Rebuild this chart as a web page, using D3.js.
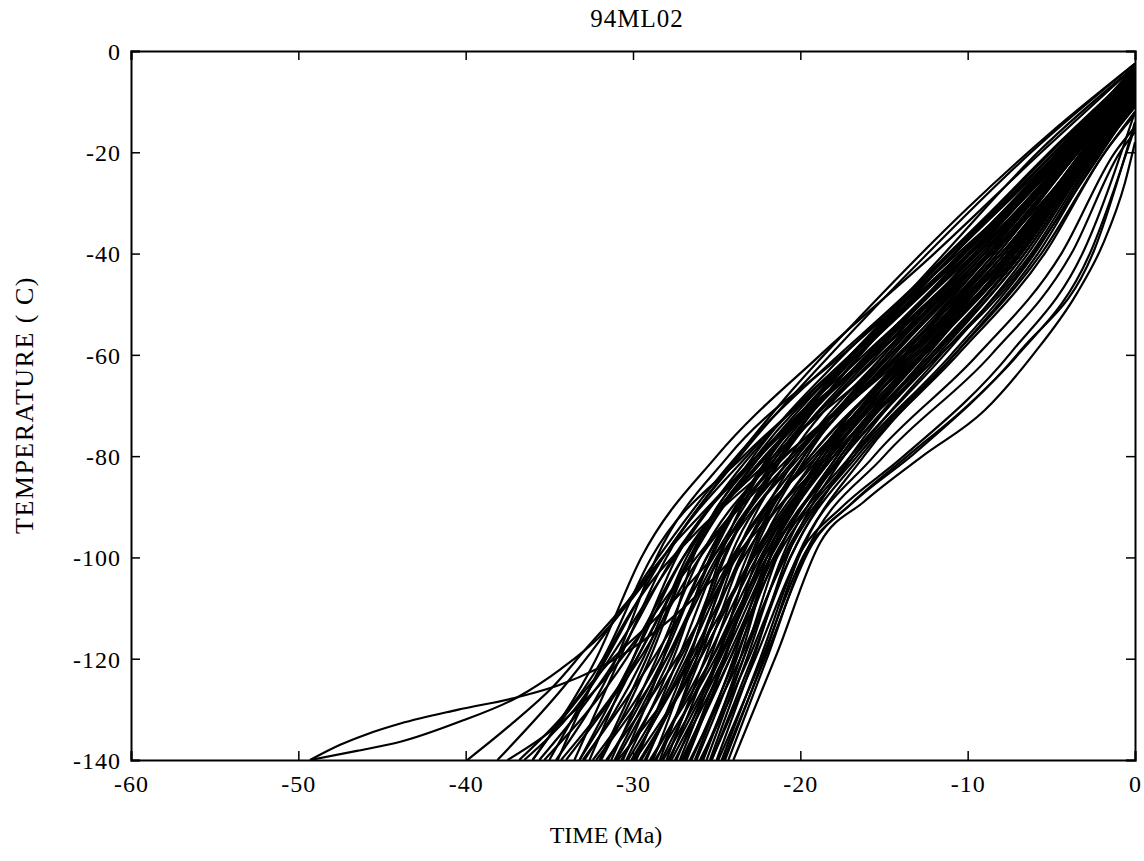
<!DOCTYPE html>
<html>
<head>
<meta charset="utf-8">
<script src="https://cdn.jsdelivr.net/npm/d3@7"></script>
<style>
  body { margin: 0; background: #fff; }
  svg { display: block; }
  text { font-family: "Liberation Serif", "Times New Roman", serif; fill: #000; }
</style>
</head>
<body>
<div id="chart"></div>
<script>
// axis ticks
const xTicks = [-60, -50, -40, -30, -20, -10, 0];
const yTicks = [0, -20, -40, -60, -80, -100, -120, -140];

// temperature levels used by the band paths (time read at each level)
const tempLevels = [-140, -120, -100, -80, -60, -40, -20];

// each row: time (Ma) at -140, -120, -100, -80, -60, -40, -20, then temperature at t = 0
const bandTimes = [
  [-36.8, -31.8, -28.9, -23.4, -16.6, -10.2, -4.4, -5],
  [-36.0, -32.2, -29.5, -25.0, -18.8, -12.0, -5.6, -3],
  [-35.3, -30.4, -27.0, -22.0, -16.9, -11.4, -5.8, -3],
  [-34.6, -31.0, -28.6, -24.3, -17.5, -10.6, -4.0, -6],
  [-34.0, -29.6, -26.0, -20.6, -14.2, -8.6, -3.4, -7.5],
  [-33.5, -30.8, -28.0, -23.6, -18.2, -12.4, -6.2, -2.5],
  [-33.0, -28.8, -25.2, -21.4, -16.0, -9.9, -4.0, -5],
  [-32.6, -30.0, -27.4, -22.4, -15.6, -9.2, -3.6, -6.5],
  [-32.2, -28.0, -24.8, -20.2, -14.8, -9.6, -4.6, -4],
  [-31.9, -29.0, -26.6, -22.8, -17.4, -11.0, -4.8, -4.5],
  [-31.6, -27.4, -23.8, -19.4, -13.6, -8.0, -3.0, -8.5],
  [-31.3, -28.6, -26.0, -21.4, -15.2, -9.0, -3.5, -7],
  [-31.0, -27.8, -25.3, -21.9, -16.8, -10.8, -4.8, -4],
  [-30.7, -27.2, -24.1, -19.2, -13.0, -7.2, -2.6, -10],
  [-30.4, -27.6, -25.4, -21.6, -16.0, -10.0, -4.2, -5],
  [-30.1, -26.6, -23.4, -18.8, -13.8, -8.7, -3.8, -6],
  [-29.8, -27.3, -24.9, -20.4, -14.1, -8.0, -3.1, -8],
  [-29.5, -26.2, -23.6, -20.2, -15.0, -9.2, -3.8, -6],
  [-29.2, -26.7, -24.5, -21.0, -15.8, -9.9, -4.3, -5],
  [-28.9, -25.6, -22.6, -18.0, -12.2, -6.8, -2.6, -9.5],
  [-28.6, -26.0, -23.9, -20.6, -15.4, -9.4, -3.8, -5.5],
  [-28.3, -25.3, -22.4, -18.6, -13.6, -8.4, -3.5, -6.5],
  [-28.0, -25.7, -23.5, -19.4, -13.4, -7.6, -2.9, -8.5],
  [-27.7, -24.6, -21.8, -17.6, -12.4, -7.4, -3.0, -7.5],
  [-27.4, -25.0, -22.9, -19.6, -14.6, -8.8, -3.6, -6],
  [-27.1, -24.2, -21.4, -16.8, -11.0, -6.0, -2.2, -11],
  [-26.8, -24.5, -22.6, -19.0, -13.6, -7.8, -3.0, -8],
  [-26.5, -23.9, -21.5, -17.8, -12.8, -7.2, -2.6, -9],
  [-26.2, -23.8, -21.8, -18.4, -13.2, -7.4, -2.7, -8.5],
  [-25.9, -23.4, -21.0, -16.6, -10.8, -5.6, -1.8, -12],
  [-25.6, -23.4, -21.4, -17.8, -12.6, -7.0, -2.6, -9],
  [-25.3, -22.9, -20.6, -16.4, -10.6, -5.4, -1.8, -12.5],
  [-25.0, -22.8, -20.8, -17.4, -12.2, -6.8, -2.6, -9.5],
  [-24.7, -22.4, -20.2, -15.6, -9.4, -4.4, -1.2, -15],
  [-24.3, -22.0, -19.8, -15.0, -8.6, -3.8, -0.9, -16],
  [-35.6, -31.0, -27.6, -22.6, -15.8, -9.4, -3.9, -6],
  [-30.9, -26.4, -22.8, -18.4, -13.0, -7.6, -3.2, -7],
  [-29.9, -26.0, -22.9, -18.6, -12.8, -7.0, -2.6, -9],
  [-28.8, -26.6, -24.8, -21.8, -16.6, -10.4, -4.5, -4],
  [-27.9, -24.8, -22.0, -18.2, -13.4, -8.2, -3.4, -6.5],
  [-26.9, -24.6, -22.3, -18.0, -12.0, -6.6, -2.5, -9],
  [-32.9, -29.4, -26.8, -22.0, -15.8, -9.8, -4.0, -5.5],
  [-30.3, -27.0, -24.6, -21.2, -16.4, -10.8, -4.8, -3.5],
  [-29.0, -25.3, -22.0, -17.4, -11.8, -6.6, -2.5, -9.5],
  [-27.2, -24.9, -23.0, -19.8, -14.8, -9.0, -3.8, -5.5],
  [-26.0, -23.1, -20.6, -17.0, -12.0, -6.9, -2.7, -8.5],
  [-31.5, -28.2, -25.6, -21.8, -16.6, -10.4, -4.4, -4.5],
  [-28.4, -26.2, -24.2, -20.0, -14.0, -8.4, -3.4, -7],
  [-27.5, -24.4, -21.6, -17.0, -11.4, -6.4, -2.4, -10],
  [-25.4, -23.2, -21.1, -17.6, -12.6, -7.2, -2.8, -8],
  [-34.3, -29.8, -26.6, -22.4, -17.0, -11.0, -5.0, -4],
  [-33.2, -30.0, -27.0, -21.6, -14.6, -8.6, -3.4, -7],
  [-30.0, -26.8, -24.0, -19.8, -14.4, -8.8, -3.7, -6],
  [-28.2, -24.9, -22.2, -18.2, -12.8, -7.6, -3.2, -7],
  [-26.6, -23.6, -20.9, -16.8, -11.6, -6.2, -2.3, -10.5],
  [-29.3, -26.4, -24.0, -19.0, -13.2, -7.8, -3.1, -8],
  [-27.8, -25.4, -23.2, -19.8, -15.0, -9.6, -4.2, -4.5],
  [-31.1, -28.0, -25.0, -20.4, -14.6, -9.0, -3.9, -6],
  [-24.5, -22.2, -20.1, -16.2, -10.8, -5.8, -2.1, -11],
  [-35.0, -31.6, -28.2, -23.2, -17.0, -10.8, -4.6, -4.5],
  [-32.4, -28.4, -25.6, -21.2, -15.6, -10.2, -4.6, -4],
  [-26.3, -24.0, -22.0, -18.8, -13.8, -8.2, -3.4, -7],
  [-28.7, -25.1, -22.2, -18.0, -12.6, -7.2, -2.8, -8.5],
  [-30.6, -28.2, -26.4, -22.6, -16.8, -10.2, -4.1, -5],
  [-29.6, -26.0, -22.8, -18.4, -12.6, -7.0, -2.7, -9],
  [-25.8, -23.6, -21.8, -18.6, -13.4, -7.8, -3.1, -7.5],
  [-27.0, -24.2, -21.8, -17.4, -12.0, -6.8, -2.6, -9],
  [-32.0, -29.2, -26.6, -22.4, -16.2, -9.6, -3.8, -6]
];

// paths outside the dense band, as [time, temperature] pairs
const outerPaths = [
  [[-49.3, -140], [-46.5, -138.2], [-43.9, -136.4], [-40.5, -132.6], [-36.9, -127.6], [-34.3, -122], [-32, -115.7],
   [-29.2, -104.5], [-26.5, -92], [-23.5, -79], [-20.5, -67], [-16, -51], [-10, -31], [-5, -16], [0, -2.5]],
  [[-49.3, -140], [-47.5, -137], [-45.9, -134.9], [-43.9, -132.8], [-40.5, -130.1], [-36.9, -127.6], [-34.4, -125.2],
   [-30.2, -118.3], [-27, -110], [-24, -100], [-21, -89], [-17, -76], [-12, -61], [-7, -44], [-3, -25], [0, -10]],
  [[-38.1, -140], [-34, -125], [-31, -112], [-28.5, -100], [-25.8, -88], [-23, -77], [-19, -64], [-14, -49],
   [-9, -33], [-4.5, -18], [0, -4]],
  [[-39.9, -140], [-37.3, -133], [-34.8, -125.6], [-32.8, -118], [-30.4, -109], [-28, -99], [-25.5, -90],
   [-22, -78], [-17, -64], [-12, -50], [-7, -35], [-3, -20], [0, -8]],
  [[-36.5, -140], [-33.5, -130], [-31, -118], [-28.5, -105], [-26, -93], [-23.5, -82], [-20.5, -71], [-17, -60],
   [-13, -48], [-8.5, -34], [-4, -18], [0, -3]],
  [[-33.2, -140], [-31, -128], [-29, -115], [-27, -103], [-24.8, -91], [-22, -79.5], [-18.5, -68], [-14.5, -56],
   [-10, -42], [-5.5, -26], [0, -5]],
  [[-37.5, -140], [-35, -134.5], [-32.5, -127], [-30, -117], [-27.6, -106], [-25, -95], [-21.5, -82], [-16, -66],
   [-11, -52], [-6, -35], [-2.5, -20], [0, -9]],
  [[-34.5, -140], [-32, -122], [-29.6, -108], [-26.5, -96], [-22.5, -84], [-18, -72], [-13, -58], [-8, -42],
   [-4, -25], [0, -6]],
  [[-36, -140], [-34, -131], [-31.5, -121], [-28, -110], [-25, -99], [-22.5, -88], [-20.5, -77], [-17, -62],
   [-12.5, -47], [-7.5, -31], [-3, -15], [0, -4]]
];

// lower paths with the knee near -19 Ma
const kneePaths = [
  [[-24.0, -140], [-21.4, -119], [-18.8, -97], [-16.2, -89], [-12.7, -80], [-9, -71], [-6.1, -60], [-3.5, -48],
   [-1.9, -38], [-0.6, -26], [0, -18]],
  [[-24.6, -140], [-22, -119], [-19.3, -97.5], [-16.8, -89], [-13.2, -79.5], [-6.8, -59], [-2.4, -39], [0, -14]],
  [[-25.3, -140], [-22.7, -120], [-20, -99], [-17.5, -90], [-14, -80.5], [-7.4, -59.5], [-3, -39], [0, -12]],
  [[-24.9, -140], [-22.3, -120], [-19.7, -99], [-17, -89.5], [-13.6, -80], [-10, -70], [-7, -60], [-2.7, -40], [0, -15]]
];

const W = 1144, H = 861;
const plotLeft = 131, plotRight = 1135, plotTop = 51, plotBottom = 760;

const svg = d3.select('#chart').append('svg')
              .attr('width', W)
              .attr('height', H);

const x = d3.scaleLinear().domain([-60, 0]).range([plotLeft, plotRight]);
const y = d3.scaleLinear().domain([-140, 0]).range([plotBottom, plotTop]);

//clip the paths to the plot box
svg.append('clipPath').attr('id', 'plotclip')
   .append('rect')
   .attr('x', plotLeft).attr('y', plotTop)
   .attr('width', plotRight - plotLeft).attr('height', plotBottom - plotTop);

//turn the band rows into point lists
const bandPaths = bandTimes.map((row) => {
    let pts = [];
    tempLevels.forEach((T, i) => {
        if (row[i] !== null) pts.push([row[i], T]);
    });
    pts.push([0, row[7]]);
    return pts;
});

const allPaths = [...outerPaths, ...bandPaths, ...kneePaths];

const line = d3.line()
               .x((d) => x(d[0]))
               .y((d) => y(d[1]))
               .curve(d3.curveMonotoneX);

svg.append('g')
   .attr('clip-path', 'url(#plotclip)')
   .selectAll('path')
   .data(allPaths)
   .enter()
   .append('path')
   .attr('d', line)
   .attr('fill', 'none')
   .attr('stroke', '#000')
   .attr('stroke-width', 2.2);

//axes, ticks pointing inward on all four sides
const tick = 9;
const plain = (d) => String(d);   // plain hyphen, not the unicode minus

const gx = svg.append('g').attr('transform', `translate(0,${plotBottom})`)
              .call(d3.axisBottom(x).tickValues(xTicks).tickSize(-tick).tickPadding(13).tickFormat(plain));
const gxTop = svg.append('g').attr('transform', `translate(0,${plotTop})`)
                 .call(d3.axisTop(x).tickValues(xTicks).tickSize(-tick).tickFormat(''));
const gy = svg.append('g').attr('transform', `translate(${plotLeft},0)`)
              .call(d3.axisLeft(y).tickValues(yTicks).tickSize(-tick).tickPadding(10).tickFormat(plain));
const gyRight = svg.append('g').attr('transform', `translate(${plotRight},0)`)
                   .call(d3.axisRight(y).tickValues(yTicks).tickSize(-tick).tickFormat(''));

[gx, gxTop, gy, gyRight].forEach((g) => {
    g.select('.domain').attr('stroke', '#000').attr('stroke-width', 2);
    g.selectAll('.tick line').attr('stroke', '#000').attr('stroke-width', 1.5);
    g.selectAll('.tick text')
     .attr('font-family', '"Liberation Serif", "Times New Roman", serif')
     .attr('font-size', '24px')
     .attr('letter-spacing', '1px')
     .attr('fill', '#000');
});
gx.selectAll('.tick text').attr('dy', '0.8em');
gy.selectAll('.tick text').attr('dy', '0.35em');

//title and axis labels
svg.append('text')
   .attr('x', 637).attr('y', 27)
   .attr('text-anchor', 'middle')
   .attr('font-size', '25px')
   .attr('letter-spacing', '1px')
   .text('94ML02');

svg.append('text')
   .attr('x', 606).attr('y', 843)
   .attr('text-anchor', 'middle')
   .attr('font-size', '24px')
   .text('TIME (Ma)');

svg.append('text')
   .attr('transform', 'translate(33,405) rotate(-90)')
   .attr('text-anchor', 'middle')
   .attr('font-size', '26px')
   .attr('letter-spacing', '1.5px')
   .text('TEMPERATURE ( C)');
</script>
</body>
</html>
